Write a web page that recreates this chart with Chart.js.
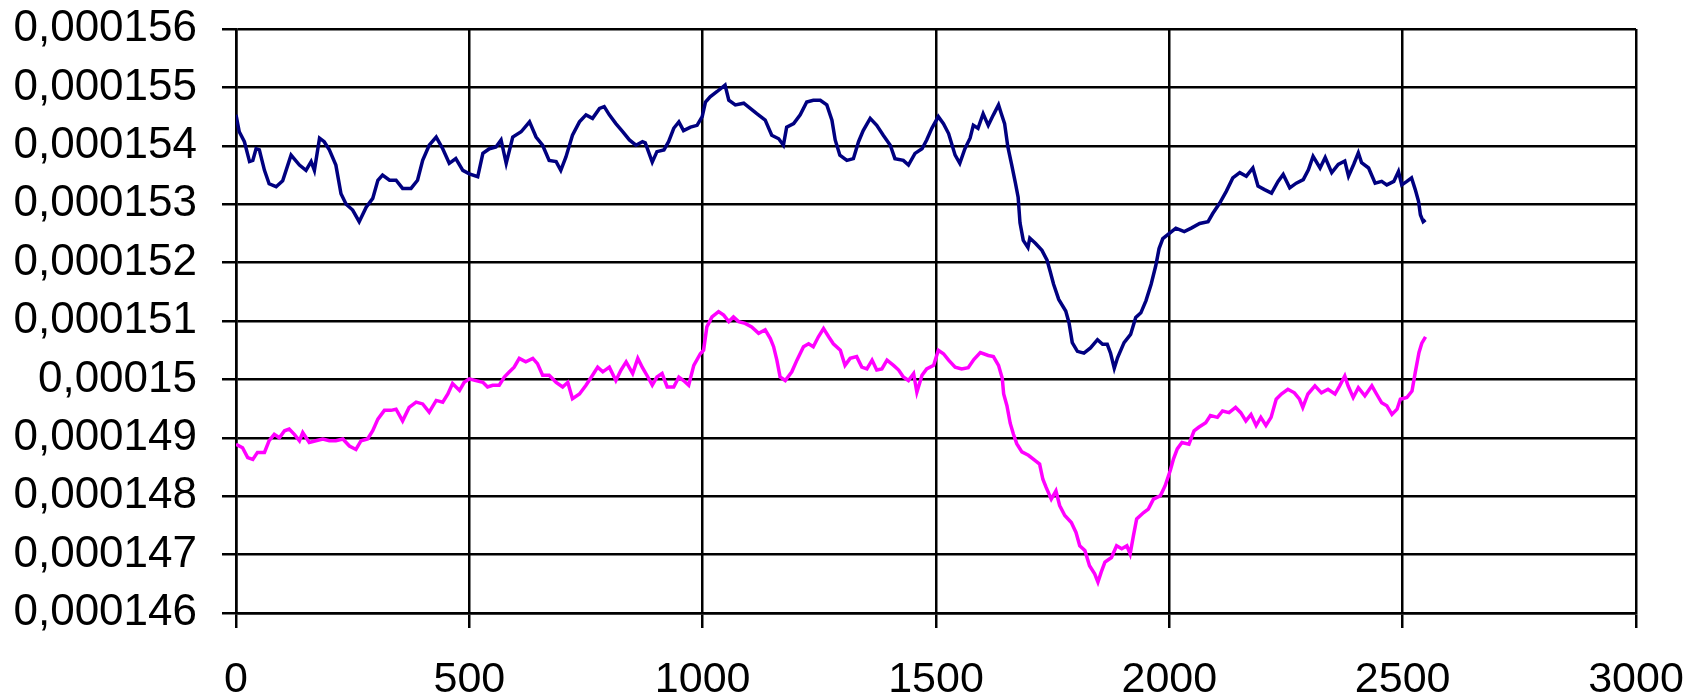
<!DOCTYPE html>
<html>
<head>
<meta charset="utf-8">
<script src="https://cdn.jsdelivr.net/npm/chart.js@4.4.1/dist/chart.umd.min.js"></script>
<style>
  html, body { margin: 0; padding: 0; background: #fff; }
  #wrap { width: 1688px; height: 697px; }
</style>
</head>
<body>
<div id="wrap"><canvas id="grafico" width="1688" height="697"></canvas></div>
<script>
// valores em milionésimos (146 = 0,000146)
const xTicks = [0, 500, 1000, 1500, 2000, 2500, 3000];
const yTicks = [146, 147, 148, 149, 150, 151, 152, 153, 154, 155, 156];

// serie azul
const azulX = [0, 7, 18, 29, 36, 43, 50, 61, 71, 86, 100, 118, 136, 150, 161, 168, 179, 189, 200, 214,
  225, 236, 250, 264, 279, 293, 304, 314, 329, 343, 357, 375, 389, 400, 414, 429, 443, 457, 471, 486,
  500, 518, 529, 543, 557, 568, 579, 593, 611, 629, 643, 657, 671, 686, 696, 707, 721, 736, 750, 764,
  779, 789, 800, 814, 829, 843, 857, 871, 877, 892, 902, 917, 927, 938, 949, 959, 974, 988, 999, 1006,
  1016, 1031, 1048, 1056, 1070, 1088, 1102, 1116, 1134, 1148, 1163, 1173, 1180, 1195, 1209, 1223, 1237, 1252, 1266, 1277,
  1284, 1294, 1309, 1323, 1334, 1344, 1359, 1373, 1387, 1402, 1412, 1430, 1441, 1455, 1470, 1480, 1491, 1505, 1516, 1527,
  1541, 1551, 1562, 1573, 1580, 1590, 1601, 1612, 1623, 1634, 1640, 1647, 1654, 1662, 1670, 1676, 1680, 1687, 1697, 1701,
  1713, 1727, 1738, 1745, 1752, 1763, 1778, 1785, 1792, 1803, 1817, 1831, 1846, 1857, 1867, 1874, 1882, 1889, 1903, 1917,
  1928, 1939, 1950, 1961, 1971, 1978, 1986, 2000, 2014, 2032, 2047, 2065, 2083, 2093, 2108, 2122, 2136, 2151, 2165, 2179,
  2190, 2204, 2219, 2233, 2244, 2258, 2272, 2287, 2298, 2308, 2323, 2334, 2348, 2362, 2376, 2384, 2395, 2405, 2412, 2427,
  2441, 2455, 2466, 2481, 2491, 2498, 2509, 2519, 2527, 2534, 2538, 2544, 2549];
const azulY = [154.53, 154.24, 154.07, 153.73, 153.75, 153.95, 153.93, 153.58, 153.35, 153.30, 153.40, 153.84, 153.67, 153.58, 153.73, 153.58, 154.13, 154.07, 153.93, 153.67,
  153.18, 153.00, 152.90, 152.70, 152.95, 153.10, 153.41, 153.50, 153.41, 153.41, 153.27, 153.27, 153.41, 153.75, 154.01, 154.15, 153.95, 153.70, 153.78, 153.58,
  153.52, 153.47, 153.87, 153.95, 153.98, 154.10, 153.70, 154.15, 154.24, 154.41, 154.15, 154.01, 153.75, 153.73, 153.58, 153.81, 154.18, 154.41, 154.53, 154.47,
  154.64, 154.67, 154.53, 154.38, 154.24, 154.10, 154.01, 154.07, 154.05, 153.72, 153.90, 153.93, 154.07, 154.30, 154.41, 154.26, 154.32, 154.35, 154.50, 154.75,
  154.84, 154.93, 155.04, 154.78, 154.70, 154.73, 154.64, 154.55, 154.44, 154.18, 154.12, 154.01, 154.32, 154.38, 154.53, 154.75, 154.78, 154.78, 154.70, 154.44,
  154.10, 153.84, 153.75, 153.78, 154.07, 154.26, 154.47, 154.35, 154.18, 154.01, 153.78, 153.75, 153.67, 153.87, 153.95, 154.10, 154.30, 154.50, 154.38, 154.21,
  153.84, 153.70, 153.95, 154.13, 154.35, 154.30, 154.55, 154.35, 154.53, 154.70, 154.55, 154.38, 153.98, 153.68, 153.37, 153.12, 152.68, 152.38, 152.26, 152.42,
  152.33, 152.21, 152.04, 151.84, 151.63, 151.37, 151.17, 150.97, 150.63, 150.48, 150.45, 150.54, 150.68, 150.60, 150.60, 150.45, 150.19, 150.37, 150.63, 150.77,
  151.06, 151.14, 151.35, 151.63, 151.95, 152.24, 152.41, 152.50, 152.59, 152.53, 152.59, 152.67, 152.70, 152.84, 153.02, 153.22, 153.45, 153.54, 153.48, 153.62,
  153.31, 153.25, 153.19, 153.39, 153.51, 153.28, 153.36, 153.42, 153.59, 153.82, 153.62, 153.80, 153.54, 153.68, 153.74, 153.48, 153.68, 153.88, 153.71, 153.62,
  153.36, 153.39, 153.33, 153.39, 153.56, 153.33, 153.39, 153.45, 153.25, 153.05, 152.82, 152.70, 152.73];

// serie rosa
const rosaX = [0, 14, 25, 36, 46, 61, 71, 82, 93, 104, 114, 125, 136, 143, 157, 171, 186, 200, 214, 229,
  243, 257, 268, 282, 293, 304, 318, 332, 343, 357, 371, 386, 400, 414, 429, 443, 454, 464, 479, 489,
  500, 514, 529, 539, 550, 564, 575, 586, 596, 607, 621, 636, 646, 657, 671, 686, 700, 711, 721, 736,
  750, 764, 775, 786, 800, 814, 825, 836, 850, 861, 871, 882, 892, 902, 913, 924, 938, 949, 959, 970,
  981, 995, 1002, 1009, 1020, 1034, 1045, 1056, 1066, 1077, 1091, 1105, 1120, 1134, 1145, 1152, 1159, 1166, 1177, 1191,
  1202, 1216, 1227, 1237, 1248, 1259, 1270, 1280, 1295, 1305, 1316, 1330, 1341, 1352, 1363, 1373, 1384, 1395, 1409, 1420,
  1430, 1441, 1452, 1459, 1470, 1480, 1495, 1505, 1516, 1527, 1541, 1555, 1569, 1581, 1595, 1612, 1623, 1634, 1642, 1645,
  1652, 1659, 1666, 1673, 1684, 1698, 1714, 1722, 1729, 1736, 1747, 1757, 1765, 1776, 1790, 1800, 1808, 1819, 1829, 1840,
  1847, 1854, 1862, 1876, 1887, 1898, 1909, 1916, 1923, 1930, 1945, 1955, 1966, 1981, 1991, 2002, 2009, 2017, 2027, 2042,
  2053, 2063, 2078, 2088, 2103, 2114, 2128, 2142, 2153, 2164, 2175, 2186, 2196, 2207, 2218, 2229, 2240, 2254, 2268, 2279,
  2286, 2297, 2312, 2326, 2340, 2355, 2365, 2376, 2383, 2394, 2405, 2419, 2434, 2444, 2455, 2466, 2477, 2488, 2495, 2509,
  2520, 2527, 2535, 2541, 2549];
const rosaY = [148.89, 148.83, 148.66, 148.63, 148.75, 148.75, 148.95, 149.06, 149.00, 149.12, 149.15, 149.06, 148.95, 149.09, 148.92, 148.95, 148.98, 148.95, 148.95, 148.98,
  148.86, 148.80, 148.95, 148.98, 149.12, 149.32, 149.47, 149.47, 149.49, 149.29, 149.52, 149.61, 149.58, 149.44, 149.64, 149.61, 149.75, 149.93, 149.81, 149.95,
  150.01, 149.98, 149.95, 149.87, 149.90, 149.90, 150.04, 150.13, 150.21, 150.36, 150.30, 150.36, 150.27, 150.07, 150.07, 149.95, 149.87, 149.95, 149.67, 149.75,
  149.90, 150.07, 150.21, 150.13, 150.21, 149.98, 150.16, 150.30, 150.10, 150.36, 150.20, 150.05, 149.90, 150.04, 150.10, 149.87, 149.87, 150.04, 149.98, 149.90,
  150.24, 150.44, 150.50, 150.90, 151.07, 151.16, 151.10, 150.99, 151.07, 150.99, 150.96, 150.90, 150.79, 150.85, 150.70, 150.56, 150.33, 150.04, 149.98, 150.13,
  150.33, 150.56, 150.61, 150.56, 150.73, 150.87, 150.73, 150.61, 150.50, 150.24, 150.36, 150.39, 150.21, 150.18, 150.33, 150.16, 150.18, 150.33, 150.24, 150.16,
  150.04, 149.98, 150.10, 149.78, 150.07, 150.18, 150.24, 150.50, 150.44, 150.33, 150.21, 150.18, 150.20, 150.34, 150.46, 150.41, 150.39, 150.24, 150.02, 149.75,
  149.55, 149.25, 149.06, 148.90, 148.76, 148.70, 148.60, 148.55, 148.29, 148.15, 147.95, 148.09, 147.84, 147.67, 147.55, 147.38, 147.15, 147.07, 146.81, 146.67,
  146.53, 146.70, 146.87, 146.95, 147.15, 147.10, 147.15, 147.01, 147.32, 147.61, 147.72, 147.78, 147.95, 148.01, 148.18, 148.44, 148.64, 148.81, 148.92, 148.89,
  149.12, 149.18, 149.26, 149.38, 149.35, 149.46, 149.43, 149.52, 149.43, 149.29, 149.40, 149.21, 149.35, 149.21, 149.35, 149.66, 149.75, 149.83, 149.77, 149.66,
  149.52, 149.75, 149.89, 149.77, 149.83, 149.75, 149.89, 150.06, 149.89, 149.69, 149.86, 149.72, 149.89, 149.75, 149.60, 149.55, 149.40, 149.49, 149.66, 149.69,
  149.80, 150.12, 150.46, 150.62, 150.73];

function pontos(xs, ys) {
  return xs.map((x, i) => ({ x: x, y: ys[i] }));
}

const fonteY = { family: '"Liberation Sans", Arial, sans-serif', size: 44 };
const fonteX = { family: '"Liberation Sans", Arial, sans-serif', size: 43 };

const ctx = document.getElementById('grafico');
new Chart(ctx, {
  type: 'line',
  data: {
    datasets: [
      {
        label: 'azul',
        data: pontos(azulX, azulY),
        borderColor: '#000080',
        borderWidth: 3.5,
        pointRadius: 0,
        tension: 0
      },
      {
        label: 'rosa',
        data: pontos(rosaX, rosaY),
        borderColor: '#ff00ff',
        borderWidth: 3.5,
        pointRadius: 0,
        tension: 0
      }
    ]
  },
  options: {
    responsive: false,
    animation: false,
    layout: { padding: { top: 29, right: 52, left: 0, bottom: 0 } },
    plugins: {
      legend: { display: false },
      tooltip: { enabled: false }
    },
    scales: {
      x: {
        type: 'linear',
        min: xTicks[0],
        max: xTicks[xTicks.length - 1],
        afterBuildTicks: s => { s.ticks = xTicks.map(v => ({ value: v })); },
        // sem margem extra para os rótulos
        afterFit: s => { s.height = 84; s.paddingLeft = 0; s.paddingRight = 0; },
        ticks: { color: '#000', font: fonteX, padding: 26, maxRotation: 0, callback: v => String(v) },
        grid: { color: '#000', lineWidth: 2.5, tickLength: 15, tickColor: '#000' },
        border: { color: '#000', width: 2.5 }
      },
      y: {
        min: yTicks[0],
        max: yTicks[yTicks.length - 1],
        afterBuildTicks: s => { s.ticks = yTicks.map(v => ({ value: v })); },
        afterFit: s => { s.width = 236; s.paddingTop = 0; s.paddingBottom = 0; },
        ticks: {
          color: '#000',
          font: fonteY,
          padding: 25,
          callback: v => String(v / 1e6).replace('.', ',')
        },
        grid: { color: '#000', lineWidth: 2.5, tickLength: 14, tickColor: '#000' },
        border: { color: '#000', width: 2.5 }
      }
    }
  }
});
</script>
</body>
</html>
